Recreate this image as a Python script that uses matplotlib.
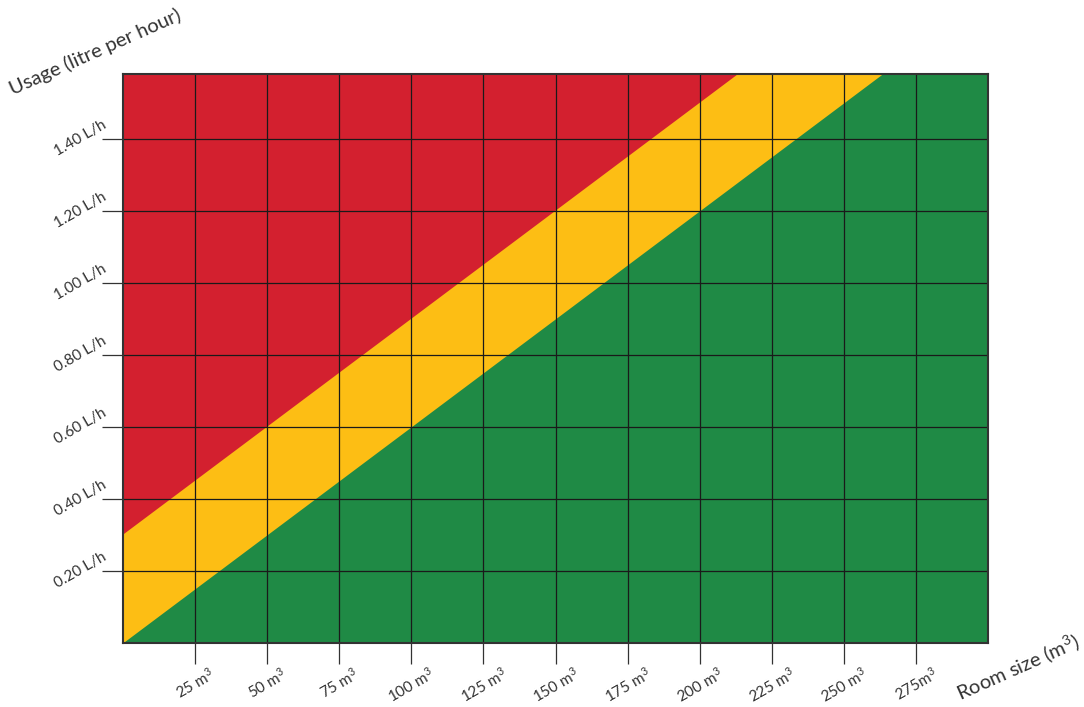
import matplotlib
matplotlib.use("Agg")
import matplotlib.pyplot as plt
import numpy as np

# Data
room_size = [0, 300]                      # m3 (x extent)
green_top = [0.0, 1.8]                    # boundary green/yellow (L/h)
yellow_top = [0.3, 2.1]                   # boundary yellow/red (L/h)
x_ticks = [25, 50, 75, 100, 125, 150, 175, 200, 225, 250, 275]
x_tick_labels = ["25 m$^3$", "50 m$^3$", "75 m$^3$", "100 m$^3$", "125 m$^3$",
                 "150 m$^3$", "175 m$^3$", "200 m$^3$", "225 m$^3$", "250 m$^3$", "275m$^3$"]
y_ticks = [0.2, 0.4, 0.6, 0.8, 1.0, 1.2, 1.4]
y_tick_labels = ["0.20 L/h", "0.40 L/h", "0.60 L/h", "0.80 L/h", "1.00 L/h", "1.20 L/h", "1.40 L/h"]
x_max, y_max = 300, 1.58

RED = "#D3202F"
YELLOW = "#FDBE14"
GREEN = "#1F8A45"
TXT = "#333333"

plt.rcParams['font.family'] = ['Lato', 'DejaVu Sans']
plt.rcParams['mathtext.fontset'] = 'custom'
plt.rcParams['mathtext.rm'] = 'Lato'
plt.rcParams['mathtext.it'] = 'Lato'

fig = plt.figure(figsize=(10.84, 7.07), dpi=100)
ax = fig.add_axes([123/1084, 1 - 642.7/707, 865/1084, (642.7-74)/707])

# layered fills (overlapping, no seams)
ax.fill_between(room_size, [0, 0], [y_max + 2, y_max + 2], color=RED, lw=0, zorder=1)
ax.fill_between(room_size, [0, 0], yellow_top, color=YELLOW, lw=0, zorder=1.1)
ax.fill_between(room_size, [0, 0], green_top, color=GREEN, lw=0, zorder=1.2)

ax.set_xlim(0, x_max)
ax.set_ylim(0, y_max)

ax.set_xticks(x_ticks)
ax.set_xticklabels(x_tick_labels, rotation=30, ha='center', fontsize=11, color=TXT)
ax.set_yticks(y_ticks)
ax.set_yticklabels(y_tick_labels, rotation=30, ha='right', va='center', fontsize=11, color=TXT)

ax.grid(True, color="#1a1a1a", linewidth=0.9, zorder=2)
ax.set_axisbelow(False)
ax.tick_params(axis='both', length=15, width=0.9, color="#333333")
ax.tick_params(axis='x', pad=1)
ax.tick_params(axis='y', pad=-5)

for s in ax.spines.values():
    s.set_color("#333333")
    s.set_linewidth(1.5)
    s.set_zorder(3)

fig.text(95/1084, 1 - 52/707, "Usage (litre per hour)", rotation=24, ha='center', va='center',
         fontsize=14.5, color=TXT)
fig.text(1018/1084, 1 - 667/707, "Room size (m$^3$)", rotation=24, ha='center', va='center',
         fontsize=14.5, color=TXT)

fig.savefig("out.png", dpi=100)
